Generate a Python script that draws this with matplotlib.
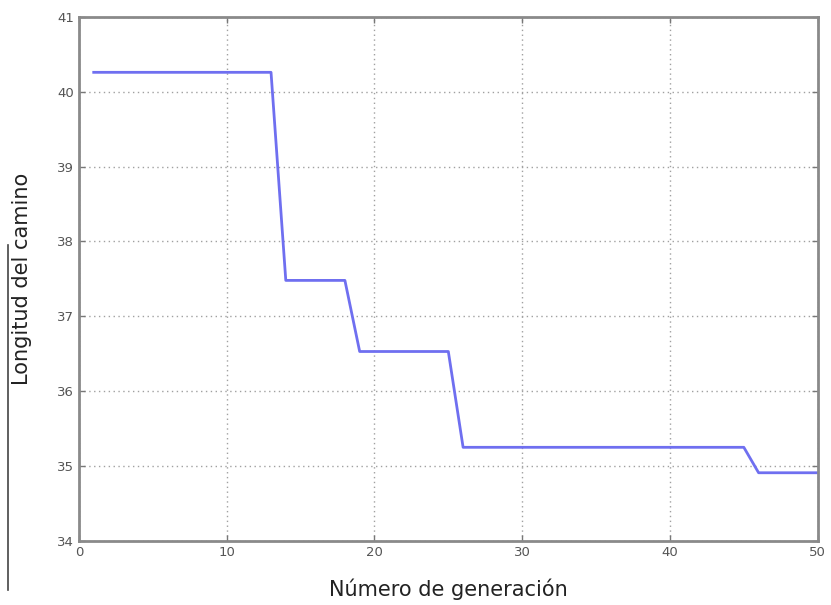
import numpy as np
import matplotlib
matplotlib.use('Agg')
import matplotlib.pyplot as plt
from matplotlib.lines import Line2D

# mejor longitud del camino por generación
generaciones = list(range(1, 51))
longitud = ([40.26] * 13 + [37.48] * 5 + [36.53] * 7 +
            [35.25] * 20 + [34.91] * 5)

x_ticks = [0, 10, 20, 30, 40, 50]
y_ticks = [34, 35, 36, 37, 38, 39, 40, 41]

fig = plt.figure(figsize=(8.31, 6.05), dpi=100)
ax = fig.add_axes([0.095, 0.106, 0.889, 0.866])

ax.plot(generaciones, longitud, color='#6f6ff0', linewidth=2)

ax.set_xlim(0, 50)
ax.set_ylim(34, 41)
ax.set_xticks(x_ticks)
ax.set_yticks(y_ticks)
ax.grid(True, linestyle=(0, (1, 2.5)), color='#a0a0a0', linewidth=1.0)

for s in ax.spines.values():
    s.set_color('#8a8a8a')
    s.set_linewidth(2)
ax.tick_params(direction='in', length=4, width=1, color='#777777',
               labelsize=9.5, labelcolor='#555555', top=True, right=True)

ax.set_xlabel('Número de generación', fontsize=15, color='#222222', labelpad=14)
ax.set_ylabel('Longitud del camino', fontsize=15, color='#222222', labelpad=18)

# borde fino a la izquierda de la imagen original
fig.add_artist(Line2D([0.0097, 0.0097], [0.025, 0.595], color='#444444', linewidth=1.2))

plt.savefig('out.png', dpi=100)
